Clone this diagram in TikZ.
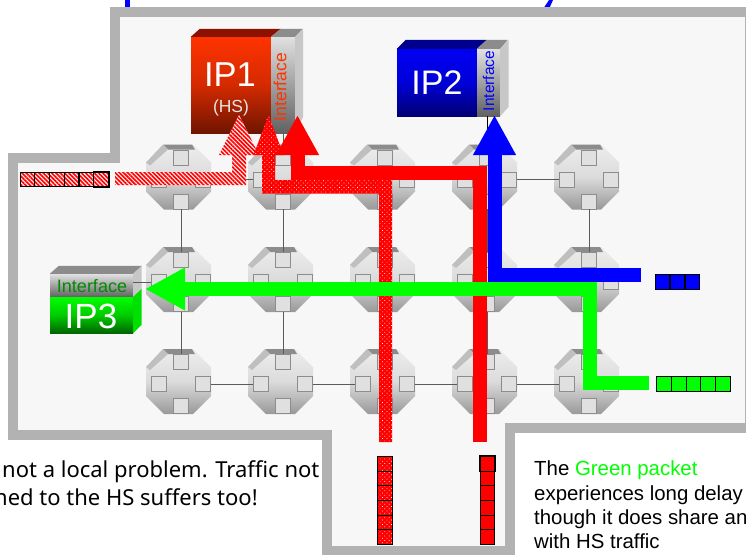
\documentclass[tikz,border=0pt]{standalone}
\usepackage{fontspec}
\setmainfont{Liberation Sans}
\newfontfamily\notefont{Noto Sans}
\usetikzlibrary{arrows.meta,patterns.meta,positioning,calc}
\definecolor{floorgray}{HTML}{B2B2B2}
\definecolor{floorfill}{HTML}{F7F7F7}
\definecolor{linkgray}{HTML}{5A5A5A}
\definecolor{iponetop}{HTML}{FF3300}
\definecolor{iponemid}{HTML}{D42A00}
\definecolor{iponebot}{HTML}{701500}
\newcommand{\fsz}[1]{\fontsize{#1}{#1}\selectfont}
\tikzset{
  routerbody/.pic={
    \shade[top color=black!7,bottom color=black!40,middle color=black!14]
      (-17,-35)--(12,-35)--(30,-17)--(30,12)--(12,30)--(-17,30)--(-35,12)--(-35,-17)--cycle;
    \fill[black!45](-18,-35)--(11,-35)--(14,-30)--(-13,-30)--cycle;
    \fill[black!25](-18,-35)--(-13,-30)--(-31,-14)--(-35,-17)--cycle;
    \foreach \dx/\dy in {0/-22,0/22,-22/0,22/0}
      \draw[port]({\dx-7.5},{\dy-7.5})rectangle++(15,15);
  }
}
\begin{document}
\begin{tikzpicture}[
  x=1pt,y=-1pt,
  routerhub/.style={rectangle,minimum size=59pt,inner sep=0pt},
  port/.style={draw=black!45,line width=0.9pt,fill=black!12},
  link/.style={draw=linkgray,line width=0.9pt},
  ipface/.style={rectangle,inner sep=0pt,text=white},
  ifpanel/.style={rectangle,inner sep=0pt,top color=black!12,bottom color=black!62},
  packet/.style={rectangle,draw=black,line width=1pt,inner sep=0pt,minimum size=14.6pt},
  hatchfill/.style={preaction={fill=red!8},pattern={Lines[angle=-45,distance=3pt,line width=1.6pt]},pattern color=red},
  dotfill/.style={preaction={fill=red},pattern={Dots[angle=45,distance=3.2pt,radius=0.5pt]},pattern color=white},
  route/.style={line width=14pt,-{Triangle[length=40pt,width=40pt]}},
  notetext/.style={anchor=base west,inner sep=0pt}]
  \clip(0,0)rectangle(746,554);
  \fill[blue](125,0)rectangle(130,8);
  \fill[blue](549,0)--(553,0)--(549,9)--(543,9)--cycle;
  \draw[draw=floorgray,fill=floorfill,line width=10pt,miter limit=10]
    (115,12)--(750,12)--(750,428)--(510,428)--(510,551)--(327,551)--(327,435)--(13,435)--(13,158)--(115,158)--cycle;
  \foreach \i/\x in {1/181,2/283,3/385,4/487,5/589}
    \foreach \j/\y in {1/179.5,2/282,3/384}{
      \pic at(\x,\y){routerbody};
      \node[routerhub](r\i\j) at(\x,\y){};
    }
  \foreach \i/\n in {1/2,2/3,3/4,4/5}
    \foreach \j in {1,2,3}
      \draw[link](r\i\j)--(r\n\j);
  \foreach \i in {1,...,5}{
    \draw[link](r\i1)--(r\i2);
    \draw[link](r\i2)--(r\i3);
  }
  % IP blocks
  \node[ipface,minimum width=80pt,minimum height=96pt,top color=iponetop,bottom color=iponebot,middle color=iponemid](ip1) at(231,85){};
  \node[text=white,font=\fsz{34.5}](ip1name) at(230,75){IP1};
  \node[text=white!90!black,font=\fsz{17.5}](ip1hs) at(231,108){(HS)};
  \node[ifpanel,minimum width=24pt,minimum height=96pt](ip1if) at(283,85){};
  \fill[iponebot!80!red](ip1.north west)--++(9,-8)--++(81,0)--(ip1.north east)--cycle;
  \fill[black!45](ip1if.north west)--++(10,-8)--++(22,0)--(ip1if.north east)--cycle;
  \fill[black!22](ip1if.north east)--++(8,-8)--++(0,88)--(ip1if.south east)--cycle;
  \node[rotate=90,text=iponetop,font=\fsz{17.5}](ip1label) at(280,87){Interface};
  \node[ipface,minimum width=80pt,minimum height=67pt,top color=blue!95!black,bottom color=blue!45!black,middle color=blue!85!black](ip2) at(437,82.5){};
  \node[text=white,font=\fsz{34}](ip2name) at(437,83){IP2};
  \node[ifpanel,minimum width=23pt,minimum height=67pt](ip2if) at(488.5,82.5){};
  \fill[blue!55!black](ip2.north west)--++(9,-9)--++(81,0)--(ip2.north east)--cycle;
  \fill[black!45](ip2if.north west)--++(10,-9)--++(21,0)--(ip2if.north east)--cycle;
  \fill[black!22](ip2if.north east)--++(8.5,-9)--++(0,67)--(ip2if.south east)--cycle;
  \node[rotate=90,text=blue,font=\fsz{15.5}](ip2label) at(488.5,81){Interface};
  \node[ifpanel,minimum width=83pt,minimum height=23pt](ip3if) at(91.5,285.5){};
  \node[ipface,minimum width=83pt,minimum height=36pt,top color=green,bottom color=green!40!black,middle color=green!80!black](ip3) at(91.5,315){};
  \fill[black!45](ip3if.north west)--++(9,-8)--++(83,0)--(ip3if.north east)--cycle;
  \fill[black!22](ip3if.north east)--++(8.5,-8)--++(0,23)--(ip3if.south east)--cycle;
  \fill[green!88!black](ip3.north east)--++(8.5,-8)--++(0,36)--(ip3.south east)--cycle;
  \node[text=green!55!black,font=\fsz{18}](ip3label) at(92,286){Interface};
  \node[text=white,font=\fsz{35}](ip3name) at(91,316){IP3};
  \draw[link](ip1if)--(r21);
  \draw[draw=black,line width=0.9pt](ip2if.south -| r41)--(r41);
  \draw[link](ip3if.east |- r12)--(r12);
  % packets and routes
  \foreach \k in {0,...,5}{
    \node[packet,hatchfill](hp\k) at({27.5+14.7*\k},179.5){};
    \node[packet,dotfill](dp\k) at(385,{463.7+14.7*\k}){};
    \node[packet,fill=red](sp\k) at(487.5,{463.7+14.7*\k}){};
  }
  \draw[line width=1.4pt](hp5.north west)rectangle(hp5.south east);
  \draw[line width=1.4pt](sp0.north west)rectangle(sp0.south east);
  \foreach \k in {0,1,2}
    \node[packet,fill=blue](bp\k) at({662.5+15*\k},282){};
  \foreach \k in {0,...,4}
    \node[packet,fill=green](gp\k) at({664+14.7*\k},384){};
  \fill[hatchfill](115,172)--(232,172)--(232,155)--(219,155)--(239,115)--(259,155)--(246,155)--(246,185)--(115,185)--cycle;
  \fill[dotfill](379,442)--(379,193.5)--(262,193.5)--(262,155)--(253.5,155)--(268.5,115)--(283.5,155)--(275,155)--(275,180)--(392,180)--(392,442)--cycle;
  \coordinate(redstart) at(480,442);
  \coordinate(redtip) at(297.5,115);
  \draw[route,red](redstart)|-(297.5,172.5)--(redtip);
  \coordinate(bluestart) at(641,275);
  \coordinate(bluetip) at(494.5,115);
  \draw[route,blue](bluestart)-|(bluetip);
  \coordinate(greenstart) at(649,383);
  \coordinate(greentip) at(145,289);
  \draw[route,green](greenstart)-|(589.5,289)--(greentip);
  % notes
  \node[notetext,font=\notefont\fsz{22}](leftone) at(2,477){not a local problem. Traffic not};
  \node[notetext,font=\notefont\fsz{22}](lefttwo) at(-6,505){ned to the HS suffers too!};
  \node[notetext,font=\fsz{20.4}](rightone) at(534,475){The \textcolor{green}{Green packet}};
  \node[notetext,font=\fsz{20.4}](righttwo) at(534,500){experiences long delay};
  \node[notetext,font=\fsz{20.4}](rightthree) at(534,524){though it does share an};
  \node[notetext,font=\fsz{20.4}](rightfour) at(534,548.5){with HS traffic};
\end{tikzpicture}
\end{document}
